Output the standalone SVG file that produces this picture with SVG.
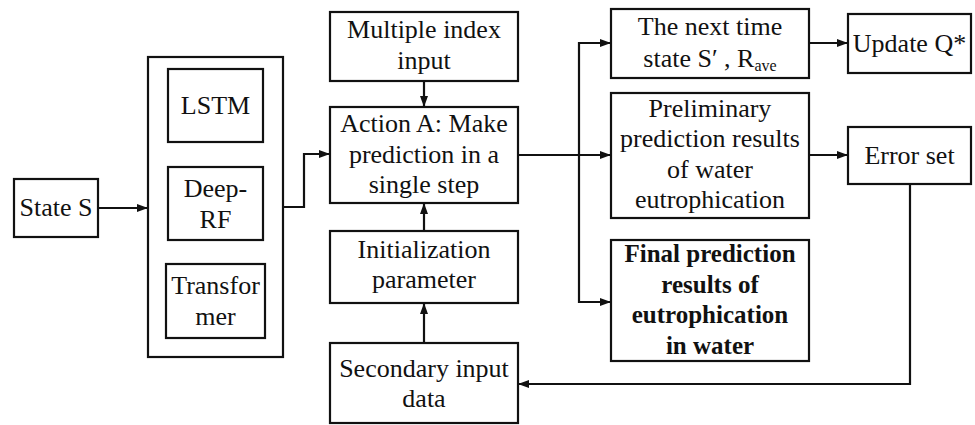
<svg xmlns="http://www.w3.org/2000/svg" width="975" height="425" viewBox="0 0 975 425">
<style>
.box{fill:#fff;stroke:#111;stroke-width:2.2}
.t{font-family:"Liberation Serif","Times New Roman",serif;font-size:26px;fill:#111;text-anchor:middle}
.b{font-weight:bold;font-size:25px}
.c{fill:none;stroke:#111;stroke-width:2.2}
</style>
<defs>
<marker id="ah" markerUnits="userSpaceOnUse" markerWidth="12" markerHeight="10" refX="11" refY="5" orient="auto">
<path d="M0,1 L11,5 L0,9 Z" fill="#111"/>
</marker>
</defs>
<rect width="975" height="425" fill="#fff"/>
<g id="stateS"><rect class="box" x="14" y="179" width="84" height="58"/><text class="t" x="56" y="216">State S</text></g>
<g id="models"><rect class="box" x="148" y="57" width="135" height="300"/></g>
<g id="lstm"><rect class="box" x="168" y="69" width="95" height="73"/><text class="t" x="215.5" y="114">LSTM</text></g>
<g id="deeprf"><rect class="box" x="168" y="167" width="95" height="73"/><text class="t" x="215.5" y="197">Deep-</text><text class="t" x="215.5" y="228">RF</text></g>
<g id="transformer"><rect class="box" x="166" y="264" width="99" height="74"/><text class="t" x="215.5" y="294">Transfor</text><text class="t" x="215.5" y="325">mer</text></g>
<g id="multi"><rect class="box" x="330" y="12" width="188" height="69"/><text class="t" x="424" y="38">Multiple index</text><text class="t" x="424" y="69">input</text></g>
<g id="action"><rect class="box" x="330" y="107" width="188" height="96"/><text class="t" x="424" y="132">Action A: Make</text><text class="t" x="424" y="163">prediction in a</text><text class="t" x="424" y="193">single step</text></g>
<g id="init"><rect class="box" x="330" y="231" width="188" height="72"/><text class="t" x="424" y="258">Initialization</text><text class="t" x="424" y="288">parameter</text></g>
<g id="secondary"><rect class="box" x="330" y="343" width="188" height="80"/><text class="t" x="424" y="377">Secondary input</text><text class="t" x="424" y="407">data</text></g>
<g id="next"><rect class="box" x="611" y="9" width="198" height="69"/><text class="t" x="710" y="35">The next time</text><text class="t" x="710" y="67">state S′ , R<tspan font-size="16" dy="4">ave</tspan></text></g>
<g id="update"><rect class="box" x="848" y="14" width="123" height="59"/><text class="t" x="909.5" y="52">Update Q*</text></g>
<g id="prelim"><rect class="box" x="611" y="93" width="198" height="125"/><text class="t" x="710" y="117">Preliminary</text><text class="t" x="710" y="147">prediction results</text><text class="t" x="710" y="178">of water</text><text class="t" x="710" y="208">eutrophication</text></g>
<g id="error"><rect class="box" x="848" y="127" width="123" height="57"/><text class="t" x="909.5" y="164">Error set</text></g>
<g id="final"><rect class="box" x="611" y="240" width="198" height="121"/><text class="t b" x="710" y="262">Final prediction</text><text class="t b" x="710" y="293">results of</text><text class="t b" x="710" y="323">eutrophication</text><text class="t b" x="710" y="354">in water</text></g>
<g id="connectors">
<path class="c" d="M98,208 H148" marker-end="url(#ah)"/>
<path class="c" d="M283,207 H304 V154 H330" marker-end="url(#ah)"/>
<path class="c" d="M424,81 V107" marker-end="url(#ah)"/>
<path class="c" d="M424,231 V203" marker-end="url(#ah)"/>
<path class="c" d="M424,343 V303" marker-end="url(#ah)"/>
<path class="c" d="M518,155 H611" marker-end="url(#ah)"/>
<path class="c" d="M579,155 V43 H611" marker-end="url(#ah)"/>
<path class="c" d="M579,155 V302 H611" marker-end="url(#ah)"/>
<path class="c" d="M809,43 H848" marker-end="url(#ah)"/>
<path class="c" d="M809,155 H848" marker-end="url(#ah)"/>
<path class="c" d="M910,184 V384 H518" marker-end="url(#ah)"/>
</g>
</svg>
